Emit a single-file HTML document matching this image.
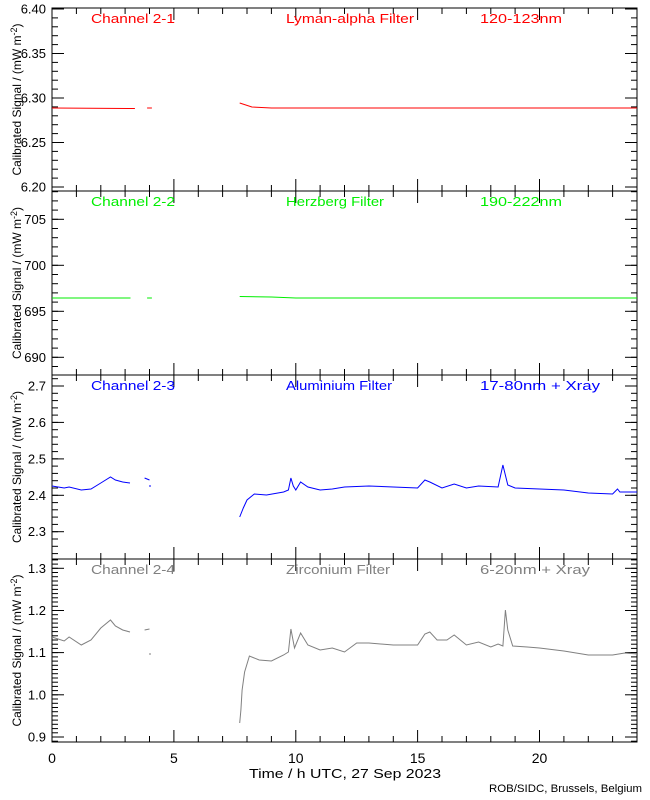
<!DOCTYPE html>
<html><head><meta charset="utf-8"><style>
body{margin:0;background:#fff}
svg{display:block;font-family:"Liberation Sans",sans-serif}
</style></head><body>
<svg id="s" width="650" height="800" xmlns="http://www.w3.org/2000/svg"></svg>
<script>
const S=document.getElementById('s');let h='';
const X0=52,X1=637,PX=(X1-X0)/24;
const tx=t=>X0+t*PX;
const panels=[
 {top:8,bot:191,v0:6.40,y0:9,v1:6.20,y1:187,maj:[6.20,6.25,6.30,6.35,6.40],fmt:v=>v.toFixed(2),minStep:0.01,c:'#ff0000',
  t:['Channel 2-1','Lyman-alpha Filter','120-123nm'],L:[84,128,82]},
 {top:191,bot:375,v0:705,y0:219.3,v1:690,y1:357.3,maj:[690,695,700,705],fmt:v=>v.toFixed(0),minStep:1,c:'#00ee00',
  t:['Channel 2-2','Herzberg Filter','190-222nm'],L:[84,98,82]},
 {top:375,bot:559,v0:2.7,y0:386,v1:2.3,y1:531.7,maj:[2.3,2.4,2.5,2.6,2.7],fmt:v=>v.toFixed(1),minStep:0.02,c:'#0000ff',
  t:['Channel 2-3','Aluminium Filter','17-80nm + Xray'],L:[84,106,120]},
 {top:559,bot:742,v0:1.3,y0:568.3,v1:0.9,y1:737,maj:[0.9,1.0,1.1,1.2,1.3],fmt:v=>v.toFixed(1),minStep:0.01,c:'#808080',
  t:['Channel 2-4','Zirconium Filter','6-20nm + Xray'],L:[84,104,110]}
];
const TL=(n)=>`textLength="${n}" lengthAdjust="spacingAndGlyphs"`;
panels.forEach(p=>{
 const k=(p.y1-p.y0)/(p.v1-p.v0);
 const vy=v=>p.y0+(v-p.v0)*k;
 const vt=p.v0+(p.top-p.y0)/k, vb=p.v0+(p.bot-p.y0)/k;
 h+=`<rect x="${X0}" y="${p.top}" width="${X1-X0}" height="${p.bot-p.top}" fill="none" stroke="#000" stroke-width="1"/>`;
 for(let v=Math.ceil(vb/p.minStep)*p.minStep;v<=vt;v+=p.minStep){
  const y=vy(v).toFixed(1);
  h+=`<line x1="${X0}" y1="${y}" x2="${X0+6}" y2="${y}" stroke="#000"/><line x1="${X1}" y1="${y}" x2="${X1-6}" y2="${y}" stroke="#000"/>`;
 }
 p.maj.forEach(v=>{const y=vy(v).toFixed(1);
  h+=`<line x1="${X0}" y1="${y}" x2="${X0+12}" y2="${y}" stroke="#000"/><line x1="${X1}" y1="${y}" x2="${X1-12}" y2="${y}" stroke="#000"/>`;
  h+=`<text x="46" y="${+y+4.5}" font-size="13" text-anchor="end">${p.fmt(v)}</text>`;});
 for(let t=0;t<=24;t++){const x=tx(t).toFixed(1),L=t%5==0?12:6;
  h+=`<line x1="${x}" y1="${p.top}" x2="${x}" y2="${p.top+L}" stroke="#000"/><line x1="${x}" y1="${p.bot}" x2="${x}" y2="${p.bot-L}" stroke="#000"/>`;}
 h+=`<text x="91" y="${p.top+15}" font-size="13" fill="${p.c}" ${TL(p.L[0])}>${p.t[0]}</text>`;
 h+=`<text x="286" y="${p.top+15}" font-size="13" fill="${p.c}" ${TL(p.L[1])}>${p.t[1]}</text>`;
 h+=`<text x="480" y="${p.top+15}" font-size="13" fill="${p.c}" ${TL(p.L[2])}>${p.t[2]}</text>`;
 const cy=(p.top+p.bot)/2;
 h+=`<text transform="translate(21,${cy}) rotate(-90)" font-size="12" text-anchor="middle">Calibrated Signal / (mW m<tspan dy="-4" font-size="9">-2</tspan><tspan dy="4">)</tspan></text>`;
});
function line(pts,c){return `<polyline points="${pts.map(a=>tx(a[0]).toFixed(1)+','+a[1]).join(' ')}" fill="none" stroke="${c}" stroke-width="1"/>`;}
h+=line([[0,108],[3.4,108.5]],'#ff0000')+line([[3.9,108],[4.1,108]],'#ff0000')+line([[7.7,103],[8.2,107],[9,108],[24,108]],'#ff0000');
h+=line([[0,298],[3.2,298],[3.2,297.5]],'#00ee00')+line([[3.9,298],[4.1,298]],'#00ee00')+line([[7.7,296.5],[9,297],[10,298],[24,298]],'#00ee00');
const c3a=[[0,486],[0.5,488],[0.7,487],[1.2,490],[1.6,489],[2.0,483],[2.4,477],[2.6,480],[2.9,482],[3.2,483]];
const c3b=[[7.7,517],[7.85,508],[8.0,500],[8.3,494],[8.8,495],[9.5,492],[9.7,490],[9.8,478],[9.9,486],[10.0,490],[10.2,482],[10.5,487],[11,490],[11.5,489],[12,487],[13,486],[14,487],[15,488],[15.3,480],[15.5,482],[16,488],[16.5,484],[17,488],[17.5,486],[18.3,487],[18.5,465],[18.7,485],[19,488],[20,489],[21,490],[22,493],[23,494],[23.2,489],[23.3,492],[24,492]];
h+=line(c3a,'#0000ff')+line([[3.8,478],[4.0,480]],'#0000ff')+`<rect x="${tx(4.0)}" y="485" width="1" height="2" fill="#0000ff"/>`+line(c3b,'#0000ff');
const c4a=[[0,637],[0.5,641],[0.7,637],[1.2,645],[1.6,640],[2.0,628],[2.4,620],[2.6,626],[2.9,630],[3.2,632]];
const c4b=[[7.7,723],[7.75,710],[7.8,690],[7.9,672],[8.1,656],[8.5,660],[9.0,661],[9.5,655],[9.7,652],[9.8,629],[9.95,648],[10.2,633],[10.5,645],[11,650],[11.5,648],[12,652],[12.5,643],[13,643],[14,645],[15,645],[15.3,634],[15.5,632],[15.8,640],[16.2,640],[16.5,635],[17,645],[17.5,642],[18,647],[18.3,644],[18.5,646],[18.6,610],[18.7,630],[18.9,646],[19.5,647],[20,648],[21,651],[22,655],[23,655],[23.5,653],[24,654]];
h+=line(c4a,'#808080')+line([[3.8,630],[4.0,629]],'#808080')+`<rect x="${tx(4.0)}" y="653" width="1" height="2" fill="#808080"/>`+line(c4b,'#808080');
[0,5,10,15,20].forEach(t=>{h+=`<text x="${tx(t)}" y="763" font-size="14" text-anchor="middle">${t}</text>`;});
h+=`<text x="249" y="778" font-size="13" ${TL(192)}>Time / h UTC, 27 Sep 2023</text>`;
h+=`<text x="489" y="792" font-size="11" ${TL(153)}>ROB/SIDC, Brussels, Belgium</text>`;
S.innerHTML=h;
</script>
</body></html>
